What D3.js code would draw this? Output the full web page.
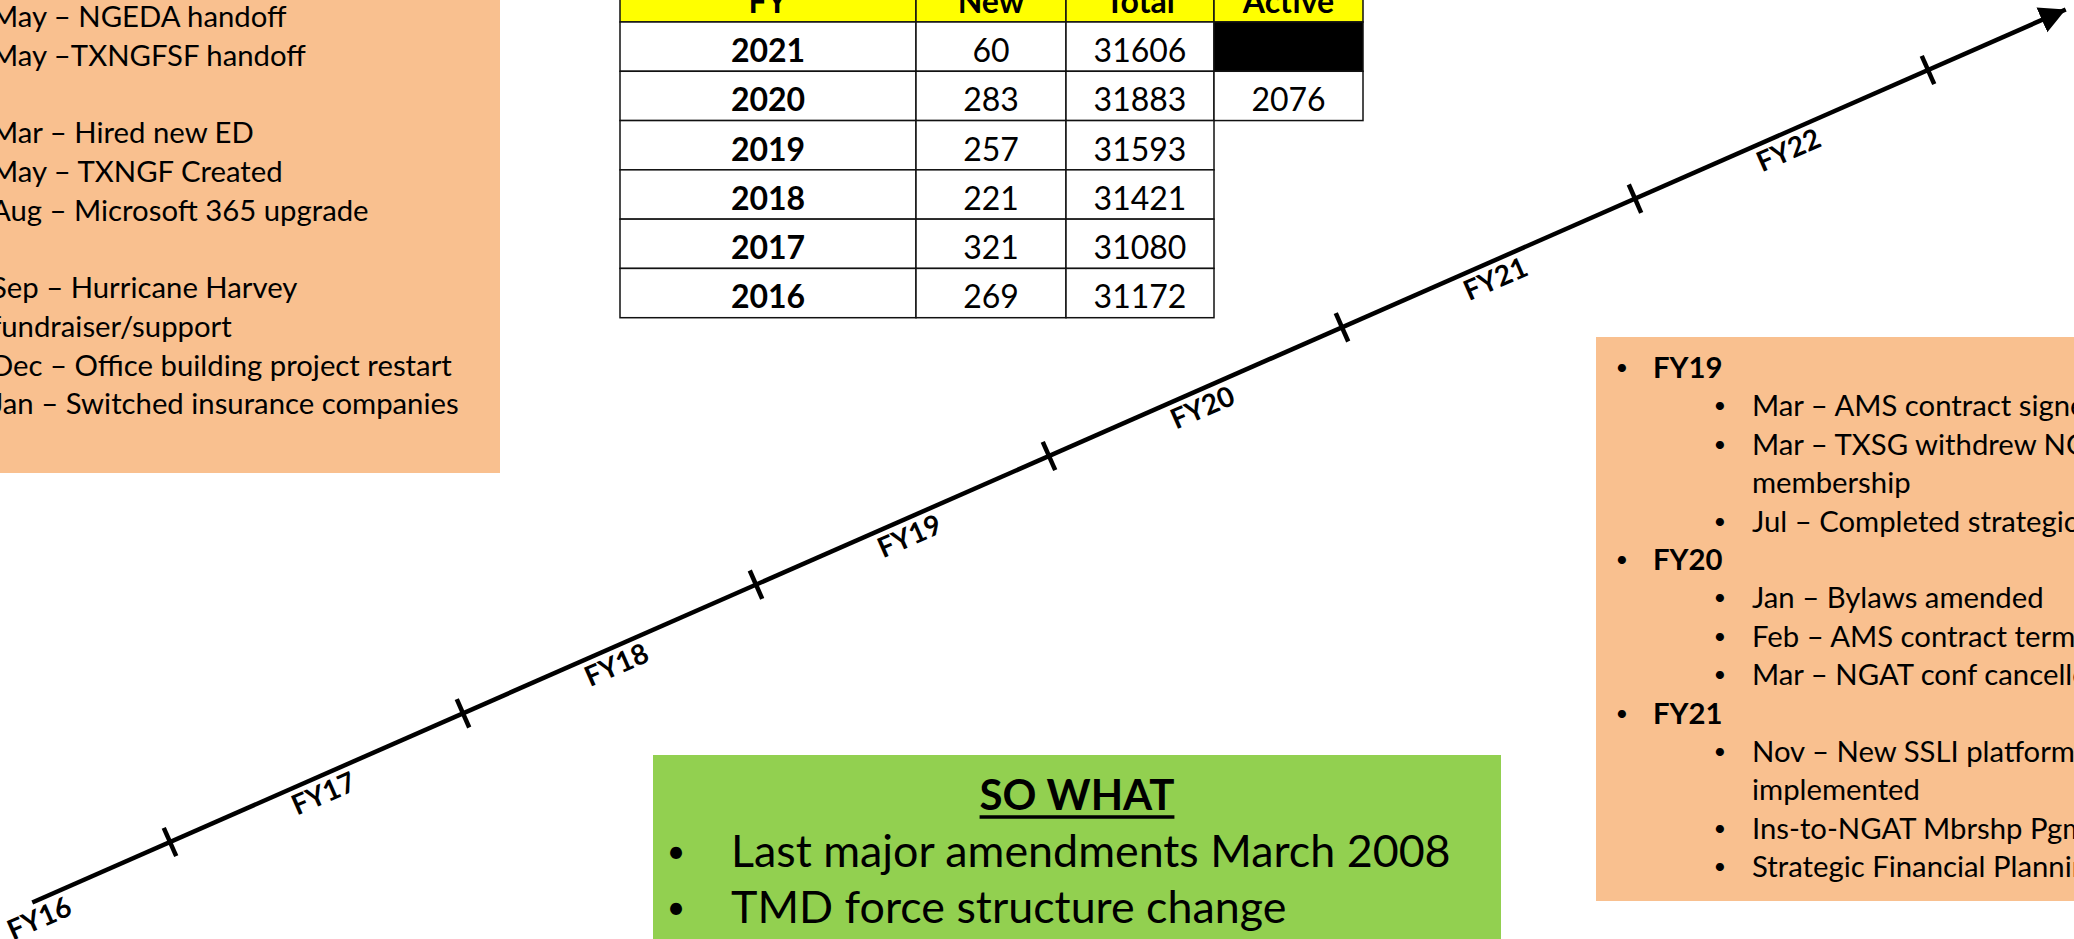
<!DOCTYPE html>
<html>
<script src="https://d3js.org/d3.v7.min.js"></script>
<style>
    body {
        margin: 0;
        background: #fff;
    }

    svg {
        display: block;
        font-family: Lato, "Open Sans", sans-serif;
    }
</style>

<body>
</body>
<script>
    // timeline
    const fyLabels = ["FY16", "FY17", "FY18", "FY19", "FY20", "FY21", "FY22"];
    const fyYears = [2016, 2017, 2018, 2019, 2020, 2021, 2022];
    const tickYears = [2016.5, 2017.5, 2018.5, 2019.5, 2020.5, 2021.5, 2022.5];
    const lineExtent = [2016.03, 2022.97];

    // membership table
    const tableHeader = ["FY", "New", "Total", "Active"];
    const tableYears = [2021, 2020, 2019, 2018, 2017, 2016];
    const newMembers = [60, 283, 257, 221, 321, 269];
    const totalMembers = [31606, 31883, 31593, 31421, 31080, 31172];
    const activeMembers = [null, 2076];

    // notes
    const leftNotes = [
        "May – NGEDA handoff",
        "May –TXNGFSF handoff",
        "",
        "Mar – Hired new ED",
        "May – TXNGF Created",
        "Aug – Microsoft 365 upgrade",
        "",
        "Sep – Hurricane Harvey",
        "fundraiser/support",
        "Dec – Office building project restart",
        "Jan – Switched insurance companies"
    ];
    const rightNotes = [
        [1, "FY19"],
        [2, "Mar – AMS contract signed"],
        [2, "Mar – TXSG withdrew NGAUS"],
        [3, "membership"],
        [2, "Jul – Completed strategic plan"],
        [1, "FY20"],
        [2, "Jan – Bylaws amended"],
        [2, "Feb – AMS contract terminated"],
        [2, "Mar – NGAT conf cancelled"],
        [1, "FY21"],
        [2, "Nov – New SSLI platform"],
        [3, "implemented"],
        [2, "Ins-to-NGAT Mbrshp Pgm"],
        [2, "Strategic Financial Planning"]
    ];
    const soWhatTitle = "SO WHAT";
    const soWhatBullets = ["Last major amendments March 2008", "TMD force structure change"];

    const width = 2074,
        height = 939;
    const orange = "#F9C08F",
        green = "#92D050";

    const svg = d3.select("body").append("svg").attr("width", width).attr("height", height);

    // left notes box
    svg.append("rect").attr("x", -10).attr("y", -10).attr("width", 510).attr("height", 483).attr("fill", orange);
    svg.append("g").selectAll("text")
        .data(leftNotes)
        .join("text")
        .attr("x", -9)
        .attr("y", (d, i) => 27.3 + i * 38.7)
        .attr("font-size", 29.3)
        .text(d => d);

    // table
    const colEdges = [620, 916, 1066, 1214, 1363];
    const row = d3.scaleBand().domain(["head", ...tableYears]).range([-27.3, 317.7]);
    const tableRows = [tableHeader].concat(tableYears.map((y, i) => [y, newMembers[i], totalMembers[i], activeMembers[i]]));
    const table = svg.append("g");
    tableRows.forEach((r, ri) => {
        const y0 = row(ri === 0 ? "head" : tableYears[ri - 1]);
        r.forEach((v, ci) => {
            if (ci === 3 && ri > 2) return;
            const x0 = colEdges[ci],
                x1 = colEdges[ci + 1];
            table.append("rect")
                .attr("x", x0).attr("y", y0)
                .attr("width", x1 - x0).attr("height", row.bandwidth())
                .attr("fill", ri === 0 ? "#FFFF00" : (ci === 3 && v == null ? "#000" : "#fff"))
                .attr("stroke", "#111").attr("stroke-width", 1.5);
            if (v == null) return;
            table.append("text")
                .attr("x", (x0 + x1) / 2)
                .attr("y", y0 + 40)
                .attr("text-anchor", "middle")
                .attr("font-size", 32)
                .attr("font-weight", ri === 0 || ci === 0 ? "bold" : "normal")
                .text(v);
        });
    });

    // timeline
    const x = d3.scaleLinear().domain([2016.5, 2022.5]).range([170, 1928]);
    const y = d3.scaleLinear().domain([2016.5, 2022.5]).range([842, 70]);
    const angle = Math.atan2(y(2022.5) - y(2016.5), x(2022.5) - x(2016.5)) * 180 / Math.PI;

    svg.append("defs").append("marker")
        .attr("id", "head")
        .attr("markerUnits", "userSpaceOnUse")
        .attr("viewBox", "0 -14 26 28")
        .attr("refX", 26).attr("refY", 0)
        .attr("markerWidth", 26).attr("markerHeight", 28)
        .attr("orient", "auto")
        .append("path")
        .attr("d", "M0,-13.5L26,0L0,13.5Z")
        .attr("fill", "#000");

    svg.append("path")
        .datum(lineExtent)
        .attr("fill", "none")
        .attr("stroke", "#000")
        .attr("stroke-width", 4.5)
        .attr("marker-end", "url(#head)")
        .attr("d", d3.line().x(d => x(d)).y(d => y(d)));

    svg.append("g").selectAll("line")
        .data(tickYears)
        .join("line")
        .attr("transform", d => `translate(${x(d)},${y(d)}) rotate(${angle})`)
        .attr("x1", 0).attr("x2", 0)
        .attr("y1", -15.5).attr("y2", 15.5)
        .attr("stroke", "#000")
        .attr("stroke-width", 4.5);

    svg.append("g").selectAll("text")
        .data(fyYears)
        .join("text")
        .attr("transform", d => {
            const t = Math.max(d, lineExtent[0]);
            return `translate(${x(t)},${y(t)}) rotate(${angle})`;
        })
        .attr("y", 17)
        .attr("dy", "0.36em")
        .attr("text-anchor", "middle")
        .attr("font-size", 28)
        .attr("font-weight", "bold")
        .text((d, i) => fyLabels[i]);

    // so what box
    svg.append("rect").attr("x", 653).attr("y", 755).attr("width", 848).attr("height", 200).attr("fill", green);
    const title = svg.append("text")
        .attr("x", 1077).attr("y", 810)
        .attr("text-anchor", "middle")
        .attr("font-size", 42)
        .attr("font-weight", "bold")
        .text(soWhatTitle);
    const tb = title.node().getBBox();
    svg.append("line")
        .attr("x1", tb.x).attr("x2", tb.x + tb.width)
        .attr("y1", 817).attr("y2", 817)
        .attr("stroke", "#000").attr("stroke-width", 3.3);
    const sw = svg.append("g").selectAll("g")
        .data(soWhatBullets)
        .join("g")
        .attr("transform", (d, i) => `translate(0,${867 + i * 56})`);
    sw.append("text").attr("x", 676).attr("y", -4).attr("text-anchor", "middle").attr("font-size", 32).text("•");
    sw.append("text").attr("x", 731).attr("font-size", 44.8).text(d => d);

    // right notes box
    svg.append("rect").attr("x", 1596).attr("y", 337).attr("width", 500).attr("height", 564).attr("fill", orange);
    const rn = svg.append("g").selectAll("g")
        .data(rightNotes)
        .join("g")
        .attr("transform", (d, i) => `translate(0,${378 + i * 38.4})`);
    rn.filter(d => d[0] < 3).append("text")
        .attr("x", d => d[0] === 1 ? 1622 : 1720)
        .attr("y", -3)
        .attr("text-anchor", "middle")
        .attr("font-size", 22)
        .text("•");
    rn.append("text")
        .attr("x", d => d[0] === 1 ? 1653 : 1752)
        .attr("font-size", 29.3)
        .attr("font-weight", d => d[0] === 1 ? "bold" : "normal")
        .text(d => d[1]);
</script>

</html>
